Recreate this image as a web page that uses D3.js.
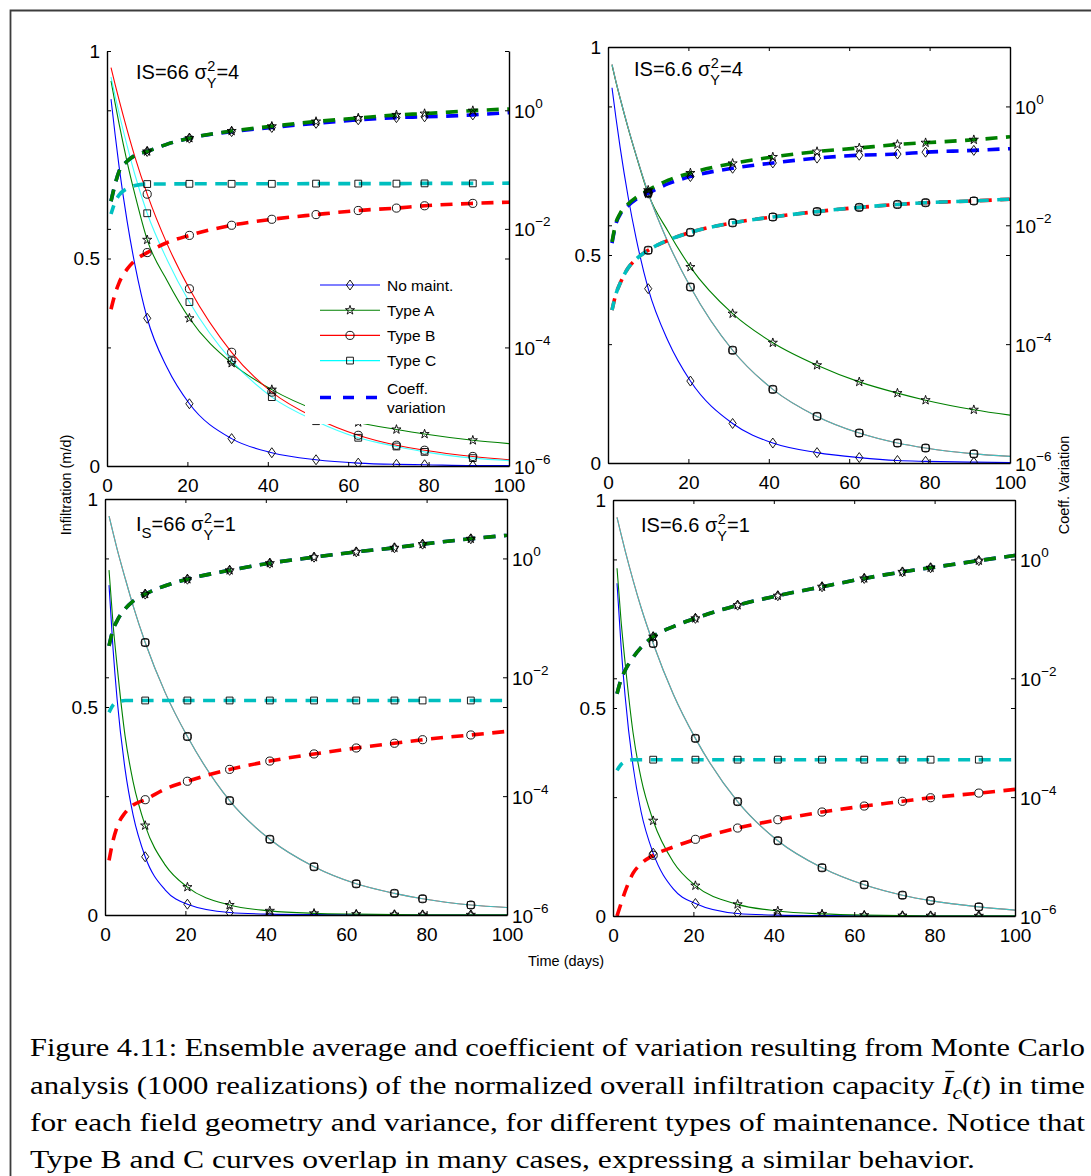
<!DOCTYPE html>
<html><head><meta charset="utf-8">
<script src="https://cdn.jsdelivr.net/npm/d3@7"></script>
<style>body{margin:0;background:#fff} svg{display:block}</style>
</head><body>
<svg id="chart" width="1091" height="1176"></svg>
<script>
// ---------- shared values ----------
const time = [1, 2, 3, 5, 7, 10, 15, 20.5, 31, 41, 52, 62.5, 72, 79, 91, 100];
const markerTimes = [10, 20.5, 31, 41, 52, 62.5, 72, 79, 91];
const xTicks = [0, 20, 40, 60, 80, 100];
const yTicks = [0, 0.5, 1];
const cvTicks = [1e-6, 1e-4, 1e-2, 1];
const cvTickExponents = ["\u22126", "\u22124", "\u22122", "0"];
const seriesNames = ["No maint.", "Type A", "Type B", "Type C"];
const legendCvLabel = ["Coeff.", "variation"];
const xLabel = "Time (days)";
const yLabel = "Infiltration (m/d)";
const y2Label = "Coeff. Variation";

// ---------- top-left: IS=66, sigma^2=4 ----------
const tlNoMaint = [0.884,0.80,0.722,0.59,0.482,0.356,0.236,0.150,0.066,0.032,0.015,0.007,0.004,0.003,0.001,0.0008];
const tlTypeA = [0.928,0.875,0.825,0.733,0.652,0.545,0.446,0.356,0.248,0.184,0.135,0.105,0.088,0.077,0.062,0.054];
const tlTypeB = [0.96,0.92,0.882,0.81,0.743,0.655,0.534,0.427,0.274,0.178,0.115,0.074,0.050,0.038,0.023,0.015];
const tlTypeC = [0.937,0.893,0.85,0.772,0.70,0.609,0.496,0.395,0.254,0.166,0.108,0.068,0.047,0.034,0.019,0.013];
const tlCvNoMaint = [0.0292,0.0562,0.0933,0.138,0.174,0.202,0.269,0.339,0.437,0.513,0.603,0.692,0.753,0.776,0.836,0.914];
const tlCvTypeA = [0.0292,0.0562,0.0933,0.138,0.174,0.202,0.269,0.339,0.447,0.537,0.646,0.741,0.836,0.879,0.986,1.052];
const tlCvTypeB = [4.41e-4,7.94e-4,1.23e-3,2.09e-3,2.95e-3,3.98e-3,5.89e-3,7.76e-3,1.15e-2,1.45e-2,1.74e-2,2.04e-2,2.24e-2,2.45e-2,2.69e-2,2.82e-2];
const tlCvTypeC = [0.0178,0.0282,0.0372,0.0479,0.0537,0.057,0.0572,0.0575,0.0575,0.0575,0.058,0.058,0.058,0.0585,0.0585,0.059];

// ---------- top-right: IS=6.6, sigma^2=4 ----------
const trNoMaint = [0.902,0.828,0.76,0.64,0.54,0.419,0.292,0.197,0.095,0.048,0.025,0.013,0.006,0.004,0.002,0.001];
const trTypeA = [0.956,0.915,0.877,0.805,0.739,0.647,0.556,0.471,0.359,0.289,0.235,0.195,0.168,0.151,0.128,0.115];
const trTypeB = [0.958,0.916,0.878,0.806,0.74,0.649,0.529,0.423,0.271,0.177,0.112,0.072,0.048,0.036,0.022,0.016];
const trTypeC = [0.958,0.916,0.878,0.806,0.74,0.649,0.529,0.423,0.271,0.177,0.112,0.072,0.048,0.036,0.022,0.016];
const trCvNoMaint = [5.01e-3,1.07e-2,1.51e-2,2.14e-2,2.75e-2,3.47e-2,5.01e-2,6.61e-2,9.12e-2,0.112,0.135,0.151,0.158,0.170,0.182,0.195];
const trCvTypeA = [5.25e-3,1.12e-2,1.58e-2,2.29e-2,2.95e-2,3.89e-2,5.75e-2,7.59e-2,0.110,0.141,0.174,0.200,0.229,0.245,0.275,0.309];
const trCvTypeB = [3.72e-4,7.08e-4,1.05e-3,1.91e-3,2.69e-3,3.80e-3,5.62e-3,7.59e-3,1.10e-2,1.38e-2,1.70e-2,2.00e-2,2.24e-2,2.40e-2,2.57e-2,2.75e-2];
const trCvTypeC = [3.72e-4,7.08e-4,1.05e-3,1.91e-3,2.69e-3,3.80e-3,5.62e-3,7.59e-3,1.10e-2,1.38e-2,1.70e-2,2.00e-2,2.24e-2,2.40e-2,2.57e-2,2.75e-2];

// ---------- bottom-left: IS=66, sigma^2=1 ----------
const blNoMaint = [0.793,0.64,0.52,0.35,0.24,0.140,0.06,0.026,0.006,0.002,0.0008,0.0003,0.0002,0.0001,0.0001,0.0001];
const blTypeA = [0.829,0.70,0.60,0.43,0.32,0.215,0.12,0.067,0.024,0.010,0.004,0.002,0.001,0.0007,0.0004,0.0003];
const blTypeB = [0.959,0.919,0.88,0.81,0.743,0.655,0.534,0.429,0.275,0.182,0.116,0.075,0.052,0.039,0.024,0.018];
const blTypeC = [0.959,0.919,0.88,0.81,0.743,0.655,0.534,0.429,0.275,0.182,0.116,0.075,0.052,0.039,0.024,0.018];
const blCvNoMaint = [0.0339,0.0631,0.0891,0.141,0.191,0.251,0.347,0.447,0.631,0.832,1.05,1.29,1.51,1.74,2.14,2.45];
const blCvTypeA = [0.0339,0.0631,0.0891,0.141,0.191,0.251,0.347,0.447,0.631,0.832,1.05,1.29,1.51,1.74,2.14,2.45];
const blCvTypeB = [8.32e-6,1.78e-5,3.02e-5,5.25e-5,7.08e-5,8.71e-5,1.32e-4,1.78e-4,2.82e-4,3.89e-4,5.13e-4,6.46e-4,7.76e-4,8.91e-4,1.07e-3,1.23e-3];
const blCvTypeC = [2.57e-3,3.39e-3,3.80e-3,4.07e-3,4.07e-3,4.07e-3,4.07e-3,4.07e-3,4.07e-3,4.07e-3,4.07e-3,4.07e-3,4.07e-3,4.07e-3,4.07e-3,4.07e-3];

// ---------- bottom-right: IS=6.6, sigma^2=1 ----------
const brNoMaint = [0.80,0.65,0.53,0.36,0.25,0.151,0.065,0.030,0.006,0.002,0.0008,0.0003,0.0001,0.0001,0.0001,0.0001];
const brTypeA = [0.836,0.71,0.61,0.44,0.33,0.229,0.13,0.073,0.028,0.012,0.005,0.002,0.001,0.0007,0.0004,0.0003];
const brTypeB = [0.958,0.918,0.879,0.807,0.741,0.655,0.533,0.427,0.275,0.181,0.116,0.075,0.050,0.037,0.022,0.014];
const brTypeC = [0.958,0.918,0.879,0.807,0.741,0.655,0.533,0.427,0.275,0.181,0.116,0.075,0.050,0.037,0.022,0.014];
const brCvNoMaint = [5.50e-3,9.55e-3,1.35e-2,2.24e-2,3.31e-2,5.01e-2,7.41e-2,0.102,0.170,0.245,0.347,0.479,0.617,0.724,0.955,1.17];
const brCvTypeA = [5.50e-3,9.55e-3,1.35e-2,2.24e-2,3.31e-2,5.01e-2,7.41e-2,0.102,0.170,0.245,0.347,0.479,0.617,0.724,0.955,1.17];
const brCvTypeB = [1.0e-6,1.62e-6,2.57e-6,5.25e-6,7.59e-6,1.05e-5,1.45e-5,1.95e-5,3.02e-5,4.17e-5,5.62e-5,7.08e-5,8.51e-5,9.77e-5,1.17e-4,1.35e-4];
const brCvTypeC = [2.82e-4,3.55e-4,3.98e-4,4.27e-4,4.27e-4,4.27e-4,4.27e-4,4.27e-4,4.27e-4,4.27e-4,4.27e-4,4.27e-4,4.27e-4,4.27e-4,4.27e-4,4.27e-4];

// ---------- caption ----------
const captionLines = [
  "Figure 4.11: Ensemble average and coefficient of variation resulting from Monte Carlo",
  "analysis (1000 realizations) of the normalized overall infiltration capacity ",
  "for each field geometry and variance, for different types of maintenance. Notice that",
  "Type B and C curves overlap in many cases, expressing a similar behavior."
];

// ---------- styles ----------
const icColors = ["#0000ff", "#008000", "#ff0000", "#00ffff"];
const icOpacity = [1, 1, 1, 0.74];
const cvColors = ["#0000ff", "#008000", "#ff0000", "#00bfbf"];
const markerKinds = ["diamond", "star", "circle", "square"];
const SANS = "'Liberation Sans', Arial, Helvetica, sans-serif";
const SERIF = "'Liberation Serif', 'DejaVu Serif', serif";

const panels = [
  {key:"tl", left:107, top:51, width:402, height:415, topBorder:false, legend:true,
   title:[{t:"IS=66 \u03c3"},{sup:"2", sub:"Y"},{t:"=4"}], tx:29, ty:28,
   ic:[tlNoMaint,tlTypeA,tlTypeB,tlTypeC], cv:[tlCvNoMaint,tlCvTypeA,tlCvTypeB,tlCvTypeC]},
  {key:"tr", left:608, top:47, width:402, height:416, topBorder:true, legend:false,
   title:[{t:"IS=6.6 \u03c3"},{sup:"2", sub:"Y"},{t:"=4"}], tx:26, ty:29,
   ic:[trNoMaint,trTypeA,trTypeB,trTypeC], cv:[trCvNoMaint,trCvTypeA,trCvTypeB,trCvTypeC]},
  {key:"bl", left:105, top:499, width:402, height:416, topBorder:true, legend:false,
   title:[{t:"I"},{subOnly:"S"},{t:"=66 \u03c3"},{sup:"2", sub:"Y"},{t:"=1"}], tx:31, ty:32,
   ic:[blNoMaint,blTypeA,blTypeB,blTypeC], cv:[blCvNoMaint,blCvTypeA,blCvTypeB,blCvTypeC]},
  {key:"br", left:613, top:500, width:402, height:416, topBorder:true, legend:false,
   title:[{t:"IS=6.6 \u03c3"},{sup:"2", sub:"Y"},{t:"=1"}], tx:28, ty:32,
   ic:[brNoMaint,brTypeA,brTypeB,brTypeC], cv:[brCvNoMaint,brCvTypeA,brCvTypeB,brCvTypeC]}
];

const svg = d3.select("#chart");
svg.append("rect").attr("width",1091).attr("height",1176).attr("fill","#fff");
// outer frame (page box)
svg.append("path").attr("d","M10.5,1176V10.5H1091").attr("fill","none")
   .attr("stroke","#3c3c3c").attr("stroke-width",1.8);

function markerPath(kind){
  if (kind === "diamond") return "M0,-5L3.6,0L0,5L-3.6,0Z";
  if (kind === "star") return d3.symbol(d3.symbolStar, 26)();
  if (kind === "circle") return d3.symbol(d3.symbolCircle, 52)();
  return d3.symbol(d3.symbolSquare, 46)();
}

function drawMarkers(g, x, yScale, values, kind){
  const pts = markerTimes.map(t => ({t, v: values[time.indexOf(t)]}));
  g.append("g").selectAll("path").data(pts).join("path")
    .attr("d", markerPath(kind))
    .attr("transform", d => `translate(${x(d.t)},${yScale(d.v)})`)
    .attr("fill","none").attr("stroke","#000").attr("stroke-width",0.9);
}

function richTitle(g, x, y, parts){
  let cx = x;
  parts.forEach(p => {
    if (p.t !== undefined){
      const el = g.append("text").attr("x",cx).attr("y",y).attr("font-size",20).text(p.t);
      cx += el.node().getComputedTextLength();
    } else if (p.subOnly){
      const el = g.append("text").attr("x",cx).attr("y",y+7).attr("font-size",15).text(p.subOnly);
      cx += el.node().getComputedTextLength();
    } else {
      const a = g.append("text").attr("x",cx+0.5).attr("y",y-8).attr("font-size",14.5).text(p.sup);
      const b = g.append("text").attr("x",cx).attr("y",y+9).attr("font-size",14.5).text(p.sub);
      cx += Math.max(a.node().getComputedTextLength(), b.node().getComputedTextLength());
    }
  });
}

panels.forEach(P => {
  const g = svg.append("g").attr("font-family", SANS).attr("fill","#000");
  const x = d3.scaleLinear().domain([0,100]).range([P.left, P.left+P.width]);
  const y = d3.scaleLinear().domain([0,1]).range([P.top+P.height, P.top]);
  const y2 = d3.scaleLog().domain([1e-6, 10]).range([P.top+P.height, P.top]);
  const clipId = "clip-"+P.key;
  svg.append("clipPath").attr("id",clipId).append("rect")
     .attr("x",P.left).attr("y",P.top).attr("width",P.width).attr("height",P.height);
  const plot = g.append("g").attr("clip-path",`url(#${clipId})`);

  const icLine = vals => d3.line().curve(d3.curveMonotoneX)
      .x((d,i)=>x(time[i])).y(d=>y(d))(vals);
  const cvLine = vals => d3.line().curve(d3.curveMonotoneX)
      .x((d,i)=>x(time[i])).y(d=>y2(d))(vals);

  // solid infiltration curves
  P.ic.forEach((vals,i) => {
    plot.append("path").attr("d", icLine(vals)).attr("fill","none")
      .attr("stroke", icColors[i]).attr("stroke-opacity", icOpacity[i]).attr("stroke-width",1.1);
  });
  // dashed coefficient of variation curves
  P.cv.forEach((vals,i) => {
    plot.append("path").attr("d", cvLine(vals)).attr("fill","none")
      .attr("stroke", cvColors[i]).attr("stroke-width",3.6)
      .attr("stroke-dasharray","12,8.5").attr("stroke-dashoffset", i===3 ? 3 : 0);
  });
  // markers
  P.ic.forEach((vals,i) => drawMarkers(plot, x, y, vals, markerKinds[i]));
  P.cv.forEach((vals,i) => drawMarkers(plot, x, y2, vals, markerKinds[i]));

  // legend (covers curves)
  if (P.legend){
    const L = g.append("g");
    L.append("rect").attr("x",305).attr("y",272).attr("width",160).attr("height",152).attr("fill","#fff");
    seriesNames.forEach((name,i) => {
      const ly = 285 + i*25.2;
      L.append("line").attr("x1",320).attr("x2",380).attr("y1",ly).attr("y2",ly)
        .attr("stroke",icColors[i]).attr("stroke-width",1.1);
      L.append("path").attr("d",markerPath(markerKinds[i])).attr("transform",`translate(350,${ly})`)
        .attr("fill","none").attr("stroke","#000").attr("stroke-width",0.9);
      L.append("text").attr("x",387).attr("y",ly+5.5).attr("font-size",15.5).text(name);
    });
    L.append("line").attr("x1",320).attr("x2",380).attr("y1",397.5).attr("y2",397.5)
      .attr("stroke",cvColors[0]).attr("stroke-width",3.6).attr("stroke-dasharray","11,12");
    L.append("text").attr("x",387).attr("y",393.5).attr("font-size",15.5).text(legendCvLabel[0]);
    L.append("text").attr("x",387).attr("y",412.5).attr("font-size",15.5).text(legendCvLabel[1]);
  }

  // axes
  const tk = 4;
  const axB = g.append("g").attr("transform",`translate(0,${P.top+P.height})`)
    .call(d3.axisBottom(x).tickValues(xTicks).tickSizeInner(-tk).tickSizeOuter(0).tickPadding(0).tickFormat(d3.format("d")));
  axB.selectAll("text").attr("font-size",19).attr("dy",null).attr("y",25.5).attr("font-family",SANS);
  if (P.topBorder){
    g.append("g").attr("transform",`translate(0,${P.top})`)
      .call(d3.axisTop(x).tickValues(xTicks).tickSizeInner(-tk).tickSizeOuter(0).tickFormat(""));
  }
  const axL = g.append("g").attr("transform",`translate(${P.left},0)`)
    .call(d3.axisLeft(y).tickValues(yTicks).tickSizeInner(-tk).tickSizeOuter(0).tickPadding(7).tickFormat(d3.format("")));
  axL.selectAll("text").attr("font-size",19).attr("x",-7).attr("dy","0.34em").attr("font-family",SANS);
  // mirrored ticks of the linear axis on the right edge, log ticks mirrored on the left edge
  g.append("g").attr("transform",`translate(${P.left+P.width},0)`)
    .call(d3.axisRight(y).tickValues(yTicks).tickSizeInner(-tk).tickSizeOuter(0).tickFormat(""))
    .select(".domain").remove();
  g.append("g").attr("transform",`translate(${P.left},0)`)
    .call(d3.axisLeft(y2).tickValues(cvTicks).tickSizeInner(-tk).tickSizeOuter(0).tickFormat(""))
    .select(".domain").remove();
  const axR = g.append("g").attr("transform",`translate(${P.left+P.width},0)`)
    .call(d3.axisRight(y2).tickValues(cvTicks).tickSizeInner(-tk).tickSizeOuter(0).tickFormat(""));
  axR.selectAll(".tick").each(function(d,i){
    const t = d3.select(this).append("text").attr("x",5).attr("y",7).attr("fill","#000")
      .attr("text-anchor","start").attr("font-family",SANS);
    t.append("tspan").attr("font-size",19).text("10");
    t.append("tspan").attr("font-size",13.5).attr("dy",-10).text(cvTickExponents[cvTicks.indexOf(d)]);
  });
  g.selectAll(".domain").attr("stroke","#000").attr("stroke-width",1.4);
  g.selectAll(".tick line").attr("stroke","#000").attr("stroke-width",1);

  richTitle(g, P.left+P.tx, P.top+P.ty, P.title);
});

// axis titles
const at = svg.append("g").attr("font-family",SANS).attr("font-size",14.5).attr("fill","#000");
at.append("text").attr("transform","translate(71,485) rotate(-90)").attr("text-anchor","middle").text(yLabel);
at.append("text").attr("transform","translate(1069,485) rotate(-90)").attr("text-anchor","middle").text(y2Label);
at.append("text").attr("x",566).attr("y",966).attr("text-anchor","middle").text(xLabel);

// caption
const cap = svg.append("g").attr("font-family",SERIF).attr("font-size",25.5).attr("fill","#000");
const capY = [1056, 1093.5, 1131, 1168];
const capW = [1055, 1055, 1055, 945];
captionLines.forEach((line,i) => {
  const t = cap.append("text").attr("x",30).attr("y",capY[i])
    .attr("textLength",capW[i]).attr("lengthAdjust","spacingAndGlyphs");
  if (i === 1){
    t.append("tspan").text(line);
    t.append("tspan").attr("font-style","italic").text("I");
    t.append("tspan").attr("font-style","italic").attr("font-size",18).attr("dy",5).text("c");
    t.append("tspan").attr("dy",-5).text("(");
    t.append("tspan").attr("font-style","italic").text("t");
    t.append("tspan").text(") in time");
    // overline over the italic I
    const idx = line.length;
    const ext = t.node().getExtentOfChar(idx);
    cap.append("line").attr("x1",ext.x+3).attr("x2",ext.x+ext.width+2)
      .attr("y1",ext.y+1).attr("y2",ext.y+1).attr("stroke","#000").attr("stroke-width",1.3);
  } else {
    t.text(line);
  }
});
</script>
</body></html>
